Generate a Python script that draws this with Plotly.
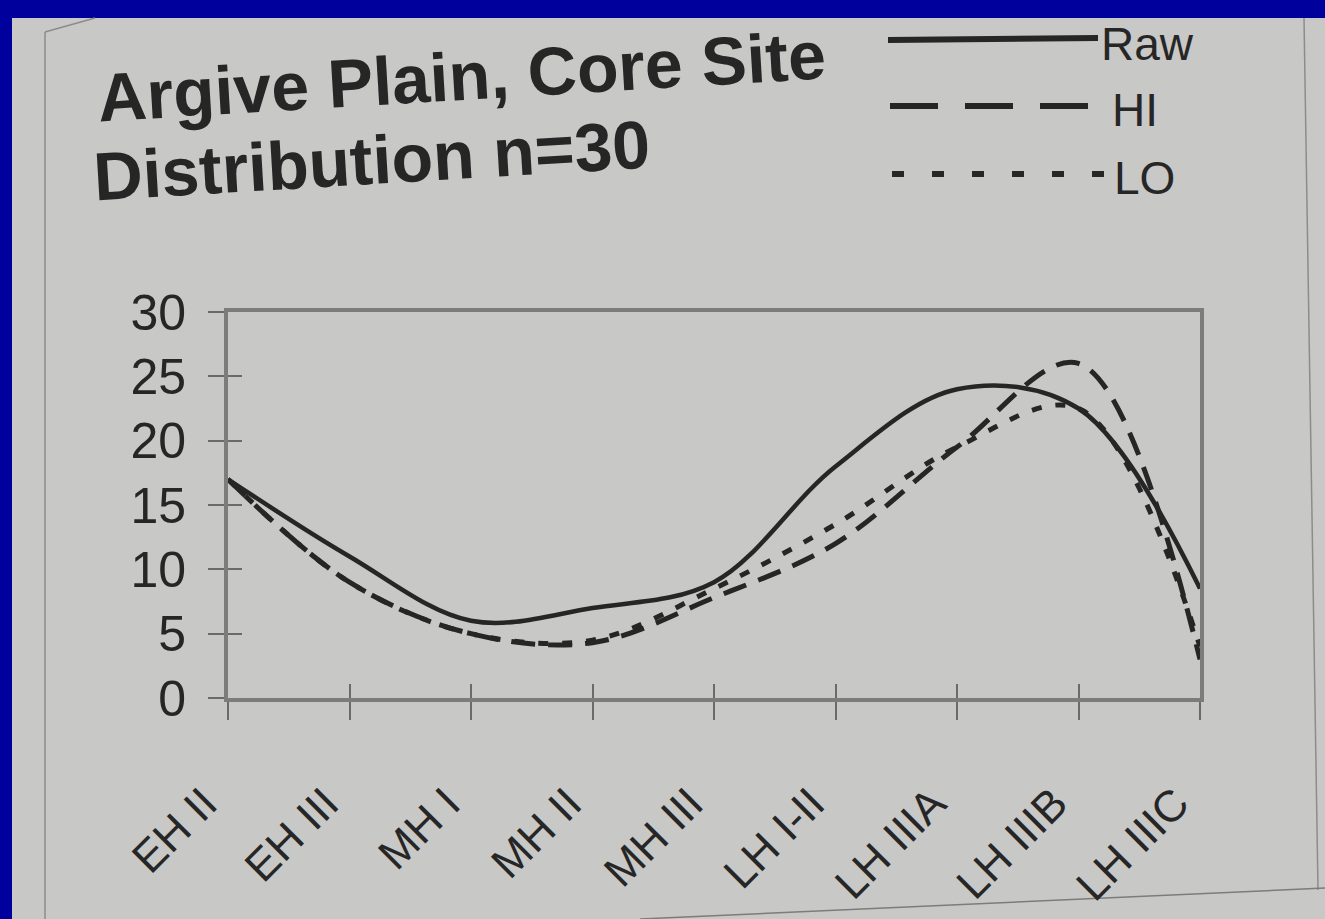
import plotly.graph_objects as go

# Period sequence and site counts per period
periods = ["EH II", "EH III", "MH I", "MH II", "MH III",
           "LH I-II", "LH IIIA", "LH IIIB", "LH IIIC"]
raw = [17, 11, 6, 7, 9, 18, 24, 22.5, 8.5]
hi = [17, 9, 5, 4.3, 7.8, 12, 19.5, 26, 3]
lo = [17, 9, 5, 4.5, 8.5, 13.5, 19.5, 22.5, 4]
y_ticks = [0, 5, 10, 15, 20, 25, 30]

W, H = 1325, 919
PL, PR, PT, PB = 228, 1200, 312, 698   # plot area in pixels

INK = "#262626"
PAGE = "#c8c8c6"
SLIDE = "#00009c"
FRAME = "#7c7c7c"


def fx(px):
    return (px - PL) / (PR - PL)


def fy(py):
    return (PB - py) / (PB - PT)


fig = go.Figure()

fig.add_trace(go.Scatter(
    x=periods, y=lo, mode="lines", name="LO",
    line=dict(color=INK, width=5, dash="10px,14px", shape="spline", smoothing=1),
))
fig.add_trace(go.Scatter(
    x=periods, y=hi, mode="lines", name="HI",
    line=dict(color=INK, width=5, dash="24px,13px", shape="spline", smoothing=1),
))
fig.add_trace(go.Scatter(
    x=periods, y=raw, mode="lines", name="Raw",
    line=dict(color=INK, width=4.5, shape="spline", smoothing=1),
))
# empty trace that carries the inward half of the cross tick marks
fig.add_trace(go.Scatter(x=[], y=[], xaxis="x2", yaxis="y2",
                         showlegend=False, hoverinfo="skip"))

shapes = [
    # printed page on the slide
    dict(type="rect", xref="paper", yref="paper", layer="below",
         x0=fx(12), x1=fx(W + 20), y0=fy(H + 20), y1=fy(18),
         fillcolor=PAGE, line=dict(width=0)),
    # page edges
    dict(type="line", xref="paper", yref="paper", layer="below",
         x0=fx(45), y0=fy(32), x1=fx(45), y1=fy(H), line=dict(color="#8c8c8c", width=1.5)),
    dict(type="line", xref="paper", yref="paper", layer="below",
         x0=fx(45), y0=fy(32), x1=fx(95), y1=fy(18), line=dict(color="#8c8c8c", width=1.5)),
    dict(type="line", xref="paper", yref="paper", layer="below",
         x0=fx(1304), y0=fy(18), x1=fx(1318), y1=fy(890), line=dict(color="#8c8c8c", width=1.5)),
    dict(type="line", xref="paper", yref="paper", layer="below",
         x0=fx(640), y0=fy(H), x1=fx(W), y1=fy(888), line=dict(color="#7c7c7c", width=1.5)),
    # key swatches
    dict(type="line", xref="paper", yref="paper",
         x0=fx(888), y0=fy(40), x1=fx(1098), y1=fy(38), line=dict(color=INK, width=6)),
    dict(type="line", xref="paper", yref="paper",
         x0=fx(890), y0=fy(106), x1=fx(1090), y1=fy(106),
         line=dict(color=INK, width=6, dash="48px,27px")),
    dict(type="line", xref="paper", yref="paper",
         x0=fx(892), y0=fy(174), x1=fx(1106), y1=fy(174),
         line=dict(color=INK, width=6, dash="12px,28px")),
]

annotations = [
    dict(text="Argive Plain, Core Site", xref="paper", yref="paper",
         x=fx(461), y=fy(76), xanchor="center", yanchor="middle", showarrow=False,
         textangle=-3.4,
         font=dict(family="Liberation Sans", size=68, color=INK, weight="bold")),
    dict(text="Distribution n=30", xref="paper", yref="paper",
         x=fx(371), y=fy(160), xanchor="center", yanchor="middle", showarrow=False,
         textangle=-3.4,
         font=dict(family="Liberation Sans", size=68, color=INK, weight="bold")),
]
for label, lx, ly in [("Raw", 1099, 44), ("HI", 1110, 110), ("LO", 1112, 178)]:
    annotations.append(dict(
        text=label, xref="paper", yref="paper", x=fx(lx), y=fy(ly),
        xanchor="left", yanchor="middle", showarrow=False,
        font=dict(family="Liberation Sans", size=46, color=INK)))

fig.update_layout(
    width=W, height=H,
    margin=dict(l=PL, r=W - PR, t=PT, b=H - PB, pad=0, autoexpand=False),
    paper_bgcolor=SLIDE,
    plot_bgcolor="rgba(0,0,0,0)",
    showlegend=False,
    shapes=shapes,
    annotations=annotations,
    xaxis=dict(
        type="category", range=[0, len(periods) - 1], automargin=False,
        showgrid=False, zeroline=False,
        showline=True, mirror=True, linecolor=FRAME, linewidth=4,
        ticks="outside", ticklen=18, tickwidth=1.5, tickcolor="#6a6a6a",
        tickangle=-45, ticklabelstandoff=40, ticklabelshift=-24,
        tickfont=dict(family="Liberation Sans", size=44, color=INK),
    ),
    yaxis=dict(
        range=[0, 30], tickvals=y_ticks, automargin=False,
        showgrid=False, zeroline=False,
        showline=True, mirror=True, linecolor=FRAME, linewidth=4,
        ticks="outside", ticklen=16, tickwidth=1.5, tickcolor="#6a6a6a",
        ticklabelstandoff=12,
        tickfont=dict(family="Liberation Sans", size=50, color=INK),
    ),
    xaxis2=dict(
        overlaying="x", anchor="y2", range=[0, len(periods) - 1],
        tickmode="linear", tick0=0, dtick=1,
        showgrid=False, zeroline=False, showline=False, showticklabels=False,
        ticks="inside", ticklen=14, tickwidth=1.5, tickcolor="#6a6a6a",
    ),
    yaxis2=dict(
        overlaying="y", anchor="x2", side="left", range=[0, 30],
        tickvals=y_ticks,
        showgrid=False, zeroline=False, showline=False, showticklabels=False,
        ticks="inside", ticklen=14, tickwidth=1.5, tickcolor="#6a6a6a",
    ),
)

fig.write_html("out.html")
